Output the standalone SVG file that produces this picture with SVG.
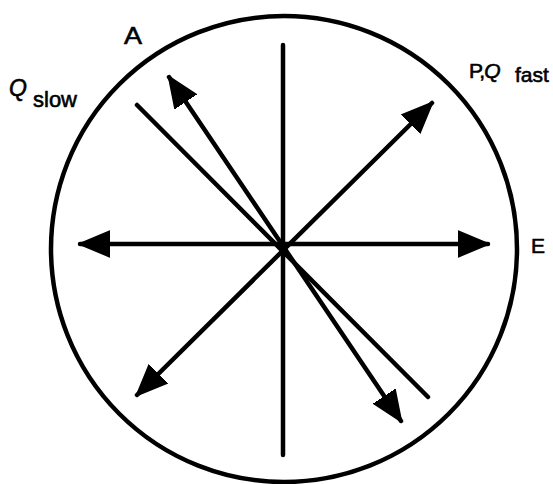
<svg xmlns="http://www.w3.org/2000/svg" width="553" height="484" viewBox="0 0 553 484">
<style>
.ln{stroke:#000;stroke-width:4.5;fill:none;stroke-linecap:round}
.t{font-family:"Liberation Sans",Arial,sans-serif;fill:#000;stroke:#000;stroke-width:0.6}
</style>
<defs>
<marker id="ah" markerUnits="userSpaceOnUse" markerWidth="32" markerHeight="28" refX="30" refY="14" orient="auto-start-reverse" viewBox="0 0 32 28">
<path d="M0,1 L31,14 L0,27 Z" fill="#000" stroke="#000" stroke-width="1.5" stroke-linejoin="round"/>
</marker>
</defs>
<rect width="553" height="484" fill="#fff"/>
<g id="circle"><circle cx="284" cy="249" r="233" class="ln"/></g>
<g id="connectors">
<line class="ln" x1="283" y1="45" x2="283" y2="455"/>
<line class="ln" x1="80" y1="244" x2="488" y2="244" marker-start="url(#ah)" marker-end="url(#ah)"/>
<line class="ln" x1="137" y1="105" x2="428" y2="397"/>
<line class="ln" x1="169" y1="77" x2="401" y2="421" marker-start="url(#ah)" marker-end="url(#ah)"/>
<line class="ln" x1="137" y1="395" x2="432" y2="103" marker-start="url(#ah)" marker-end="url(#ah)"/>
</g>
<g id="label-A"><text class="t" x="124" y="44" font-size="23" textLength="18" lengthAdjust="spacingAndGlyphs">A</text></g>
<g id="label-Qslow"><text class="t" x="9" y="96" font-size="23" font-style="italic">Q</text><text class="t" x="33" y="107" font-size="22">slow</text></g>
<g id="label-PQfast"><text class="t" x="469" y="78" font-size="21" letter-spacing="-1">P,<tspan font-style="italic">Q</tspan></text><text class="t" x="515" y="82" font-size="21">fast</text></g>
<g id="label-E"><text class="t" x="531" y="253" font-size="21">E</text></g>
</svg>
